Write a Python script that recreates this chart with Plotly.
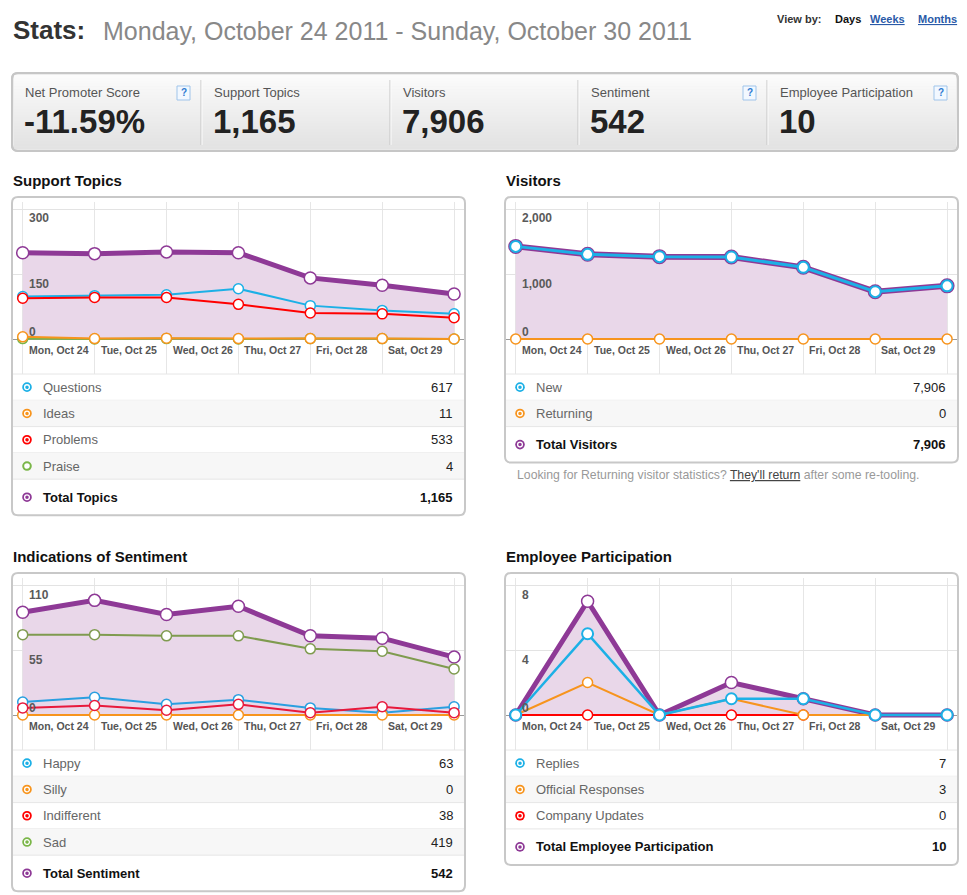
import plotly.graph_objects as go

# values
days = ["Mon, Oct 24", "Tue, Oct 25", "Wed, Oct 26", "Thu, Oct 27",
        "Fri, Oct 28", "Sat, Oct 29", "Sun, Oct 30"]

kpi_labels = ["Net Promoter Score", "Support Topics", "Visitors", "Sentiment", "Employee Participation"]
kpi_values = ["-11.59%", "1,165", "7,906", "542", "10"]
kpi_help = [True, False, False, True, True]

questions = [98, 100, 102, 116, 77, 66, 58]
ideas = [5, 1, 2, 1, 1, 1, 0]
problems = [94, 96, 96, 80, 60, 58, 49]
praise = [1, 0, 1, 0, 1, 1, 0]
total_topics = [199, 197, 201, 199, 141, 124, 104]

new_visitors = [1425, 1303, 1267, 1262, 1103, 728, 818]
returning_visitors = [0, 0, 0, 0, 0, 0, 0]
total_visitors = [1425, 1303, 1267, 1262, 1103, 728, 818]

happy = [11, 15, 9, 13, 6, 2, 7]
silly = [0, 0, 0, 0, 0, 0, 0]
indifferent = [6, 8, 4, 9, 2, 7, 2]
sad = [68, 68, 67, 67, 56, 54, 39]
total_sentiment = [87, 97, 85, 92, 67, 65, 49]

replies = [0, 5, 0, 1, 1, 0, 0]
official_responses = [0, 2, 0, 1, 0, 0, 0]
company_updates = [0, 0, 0, 0, 0, 0, 0]
total_participation = [0, 7, 0, 2, 1, 0, 0]

FONT = "Arial, 'Liberation Sans', sans-serif"
PURPLE = "#8e3996"
BLUE = "#1cb0e6"
ORANGE = "#f7941d"
RED = "#ff0000"
RED2 = "#e8193c"
GREEN = "#7ab648"
OLIVE = "#7f9b4f"
FILL = "#e9d7e9"

# full window; the body margin is removed after plotting
W, H = 967, 895


def px(x):
    return x / W


def py(y):
    return 1 - y / H


shapes = []
annotations = []


def ann(x, y, text, size=13, color="#555", bold=False, anchor="left", **kw):
    if bold:
        text = "<b>" + text + "</b>"
    annotations.append(dict(x=px(x), y=py(y), xref="paper", yref="paper", text=text,
                            showarrow=False, xanchor=anchor, yanchor="middle", borderpad=0,
                            font=dict(size=size, color=color, family=FONT), **kw))


def rounded(x0, y0, x1, y1, r, fill, line, lw=2, layer="below"):
    p = lambda x, y: "%f,%f" % (px(x), py(y))
    path = ("M" + p(x0 + r, y0) + " L" + p(x1 - r, y0) + " Q" + p(x1, y0) + " " + p(x1, y0 + r)
            + " L" + p(x1, y1 - r) + " Q" + p(x1, y1) + " " + p(x1 - r, y1)
            + " L" + p(x0 + r, y1) + " Q" + p(x0, y1) + " " + p(x0, y1 - r)
            + " L" + p(x0, y0 + r) + " Q" + p(x0, y0) + " " + p(x0 + r, y0) + " Z")
    shapes.append(dict(type="path", path=path, xref="paper", yref="paper", fillcolor=fill,
                       line=dict(color=line, width=lw), layer=layer))


def rect(x0, y0, x1, y1, fill, line=None, lw=0, layer="below"):
    shapes.append(dict(type="rect", xref="paper", yref="paper", x0=px(x0), x1=px(x1),
                       y0=py(y1), y1=py(y0), fillcolor=fill,
                       line=dict(color=line or fill, width=lw), layer=layer))


def hline(x0, x1, y, color="#e6e6e6", w=1, layer="below"):
    shapes.append(dict(type="line", xref="paper", yref="paper", x0=px(x0), x1=px(x1),
                       y0=py(y), y1=py(y), line=dict(color=color, width=w), layer=layer))


def vline(x, y0, y1, color, w=1):
    shapes.append(dict(type="line", xref="paper", yref="paper", x0=px(x), x1=px(x),
                       y0=py(y0), y1=py(y1), line=dict(color=color, width=w), layer="below"))


def circle(cx, cy, r, fill, line, lw):
    shapes.append(dict(type="circle", xref="paper", yref="paper", x0=px(cx - r), x1=px(cx + r),
                       y0=py(cy + r), y1=py(cy - r), fillcolor=fill,
                       line=dict(color=line, width=lw)))


def icon(cx, cy, color, kind="dot"):
    if kind == "ring":
        circle(cx, cy, 3.8, "white", color, 2)
    else:
        circle(cx, cy, 4.8, color, color, 0)
        circle(cx, cy, 2.4, color, "white", 1.3)


# header
ann(12, 30, "Stats:", size=26, color="#333", bold=True)
ann(102, 31, "Monday, October 24 2011 - Sunday, October 30 2011", size=25, color="#888")
ann(776, 19, "View by:", size=11, color="#333", bold=True)
ann(834, 19, "Days", size=11, color="#111", bold=True)
ann(869, 19, "<u>Weeks</u>", size=11, color="#2a5aa8", bold=True)
ann(917, 19, "<u>Months</u>", size=11, color="#2a5aa8", bold=True)

# KPI strip
rounded(12, 73, 958, 151, 6, "#ececec", "#c6c6c6")
n_bands = 26
for i in range(n_bands):
    t = i / (n_bands - 1)
    c = int(251 - t * 24)
    y0 = 75 + i * 74 / n_bands
    rect(14, y0, 956, y0 + 74 / n_bands + 0.4, "rgb(%d,%d,%d)" % (c, c, c))
rounded(12, 73, 958, 151, 6, "rgba(0,0,0,0)", "#c6c6c6")
col_edges = [12, 201, 390, 578, 767, 958]
for xe in col_edges[1:-1]:
    vline(xe, 80, 145, "#c4c4c4")
    vline(xe + 1, 80, 145, "#fbfbfb")
for i, (lab, val, hlp) in enumerate(zip(kpi_labels, kpi_values, kpi_help)):
    xl = col_edges[i] + 12
    ann(xl, 92, lab, size=13, color="#555")
    ann(xl - 1, 121, val, size=33, color="#222", bold=True)
    if hlp:
        cx = col_edges[i + 1] - 17.5
        rect(cx - 6.5, 86, cx + 6.5, 100, "#f2f8ff", "#9fc4ea", 1, layer="above")
        ann(cx, 93, "?", size=10, color="#2f7bd1", bold=True, anchor="center")

fig = go.Figure()

ROW_H = 26.3
TOTAL_H = 36


def chart(k, title, left, top, ymax, rows, total, draw):
    right = left + 453
    sep = top + 177
    zero = sep - 35
    grid_top = top + 12
    x0 = left + 10.7
    step = 71.9
    s = (zero - grid_top) / ymax
    bottom = sep + len(rows) * ROW_H + TOTAL_H

    ann(left, top - 17, title, size=15, color="#111", bold=True)
    rounded(left, top, right, bottom, 6, "white", "#c8c8c8")

    xa = "x" if k == 1 else "x%d" % k
    ya = "y" if k == 1 else "y%d" % k
    xkey = "xaxis" if k == 1 else "xaxis%d" % k
    ykey = "yaxis" if k == 1 else "yaxis%d" % k
    fig.update_layout(**{
        xkey: dict(domain=[px(left + 1), px(right - 1)], anchor=ya, type="category",
                   categoryorder="array", categoryarray=days,
                   range=[(left + 1 - x0) / step, (right - 1 - x0) / step],
                   tickmode="array", tickvals=days, showgrid=True, gridcolor="#e6e6e6",
                   showticklabels=False, ticks="", zeroline=False, showline=False,
                   fixedrange=True),
        ykey: dict(domain=[py(sep), py(top + 5)], anchor=xa,
                   range=[-(sep - zero) / s, (zero - top - 5) / s],
                   tickmode="array", tickvals=[ymax / 2, ymax], showgrid=True,
                   gridcolor="#e3e3e3", showticklabels=False, ticks="",
                   zeroline=True, zerolinecolor="#9a9a9a", zerolinewidth=1,
                   showline=False, fixedrange=True),
    })

    def series(y, color, width, msize, mline=1.5, fill=None):
        if fill:
            fig.add_trace(go.Scatter(x=days, y=y, mode="lines", fill="tozeroy", fillcolor=fill,
                                     line=dict(width=0, color=fill), xaxis=xa, yaxis=ya,
                                     hoverinfo="skip", showlegend=False))
        fig.add_trace(go.Scatter(x=days, y=y, mode="lines+markers",
                                 line=dict(color=color, width=width),
                                 marker=dict(size=msize, color="white",
                                             line=dict(color=color, width=mline)),
                                 xaxis=xa, yaxis=ya, hoverinfo="skip", showlegend=False,
                                 cliponaxis=False))

    draw(series)

    # y tick labels
    for v in [0, ymax / 2, ymax]:
        annotations.append(dict(x=px(left + 16), xref="paper", y=v, yref=ya,
                                text="<b>%s</b>" % format(int(v), ","), showarrow=False,
                                xanchor="left", yanchor="middle", borderpad=0,
                                yshift=7.5 if v == 0 else -9.5,
                                font=dict(size=12, color="#5a5a5a", family=FONT)))
    # x tick labels (Sunday's label does not fit in the box)
    for d in days[:-1]:
        annotations.append(dict(x=d, xref=xa, y=0, yref=ya, text="<b>%s</b>" % d,
                                showarrow=False, xanchor="left", yanchor="middle",
                                borderpad=0, xshift=5, yshift=-10.5,
                                font=dict(size=10.5, color="#555", family=FONT)))

    # table under the chart
    y = sep
    hline(left + 1, right - 1, y)
    for i, (name, color, val, kind) in enumerate(rows):
        y1 = y + ROW_H
        if i % 2 == 1:
            rect(left + 1, y, right - 1, y1, "#f7f7f7")
        hline(left + 1, right - 1, y1)
        cy = (y + y1) / 2
        icon(left + 15, cy, color, kind)
        ann(left + 30, cy, name, size=13, color="#666")
        ann(right - 11, cy, format(val, ","), size=13, color="#222", anchor="right")
        y = y1
    cy = y + TOTAL_H / 2
    name, color, val = total
    icon(left + 15, cy, color)
    ann(left + 30, cy, name, size=13, color="#111", bold=True)
    ann(right - 11, cy, format(val, ","), size=13, color="#111", bold=True, anchor="right")


def draw_topics(series):
    series(total_topics, PURPLE, 5, 12, fill=FILL)
    series(praise, GREEN, 2, 10)
    series(questions, BLUE, 2, 10)
    series(ideas, ORANGE, 2, 10)
    series(problems, RED, 2, 10)


def draw_visitors(series):
    series(total_visitors, PURPLE, 6, 13, mline=2, fill=FILL)
    series(returning_visitors, ORANGE, 2, 10)
    series(new_visitors, BLUE, 3, 11, mline=2)


def draw_sentiment(series):
    series(total_sentiment, PURPLE, 5, 12, fill=FILL)
    series(happy, "#2a9fe0", 2, 10)
    series(silly, ORANGE, 2, 10)
    series(indifferent, RED2, 2, 10)
    series(sad, OLIVE, 2, 10)


def draw_participation(series):
    series(total_participation, PURPLE, 5, 12, fill=FILL)
    series(company_updates, RED, 2, 10)
    series(official_responses, ORANGE, 2, 10)
    series(replies, BLUE, 2.5, 11, mline=2)


chart(1, "Support Topics", 12, 197, 300,
      [("Questions", BLUE, sum(questions), "dot"),
       ("Ideas", ORANGE, sum(ideas), "dot"),
       ("Problems", RED, sum(problems), "dot"),
       ("Praise", GREEN, sum(praise), "ring")],
      ("Total Topics", PURPLE, sum(total_topics)), draw_topics)

chart(2, "Visitors", 505, 197, 2000,
      [("New", BLUE, sum(new_visitors), "dot"),
       ("Returning", ORANGE, sum(returning_visitors), "dot")],
      ("Total Visitors", PURPLE, sum(total_visitors)), draw_visitors)

chart(3, "Indications of Sentiment", 12, 573, 110,
      [("Happy", BLUE, sum(happy), "dot"),
       ("Silly", ORANGE, sum(silly), "dot"),
       ("Indifferent", RED, sum(indifferent), "dot"),
       ("Sad", GREEN, sum(sad), "dot")],
      ("Total Sentiment", PURPLE, sum(total_sentiment)), draw_sentiment)

chart(4, "Employee Participation", 505, 573, 8,
      [("Replies", BLUE, sum(replies), "dot"),
       ("Official Responses", ORANGE, sum(official_responses), "dot"),
       ("Company Updates", RED, sum(company_updates), "dot")],
      ("Total Employee Participation", PURPLE, sum(total_participation)), draw_participation)

ann(516, 475, "Looking for Returning visitor statistics? "
    "<span style='color:#444'><u>They'll return</u></span> after some re-tooling.",
    size=12.25, color="#999")

fig.update_layout(width=W, height=H, margin=dict(l=0, r=0, t=0, b=0), autosize=False,
                  paper_bgcolor="white", plot_bgcolor="rgba(0,0,0,0)", showlegend=False,
                  shapes=shapes, annotations=annotations, font=dict(family=FONT))

fig.write_html("out.html", config={"displayModeBar": False},
               post_script="document.body.style.margin='0px';")
